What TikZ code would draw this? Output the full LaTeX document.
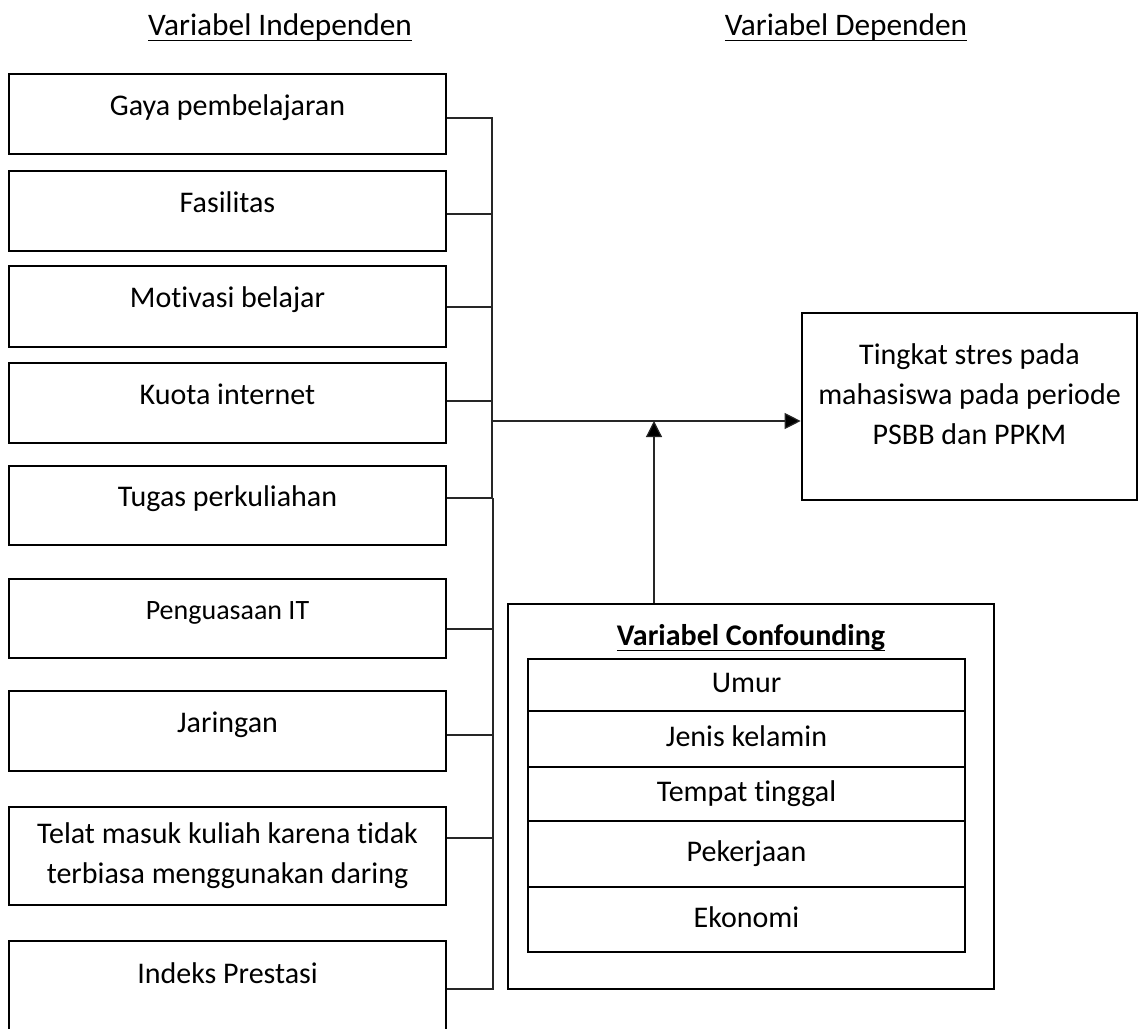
\documentclass[tikz,border=0pt]{standalone}
\usepackage{fontspec}
\setmainfont{Carlito}[Ligatures=NoCommon]
\usetikzlibrary{arrows.meta}

% garis bawah tebal untuk judul
\newcommand{\ulx}[1]{\setbox0\hbox{#1}\rlap{\rule[-4.8pt]{\wd0}{1.4pt}}\box0}

\tikzset{
  ivbox/.style={draw, line width=2pt, minimum width=327.75pt, inner sep=0pt, align=center},
  toptext/.style={text height=15.75pt, text depth=14pt},
  cfbox/.style={draw, line width=1.8pt, minimum width=327.75pt, inner sep=0pt, text height=15.75pt, text depth=4.5pt},
  conn/.style={draw=black!85, line width=0.9pt},
  arr/.style={conn, -{Triangle[length=12pt,width=12pt,fill=black]}},
  title/.style={anchor=base, inner sep=0pt, font=\fontsize{23.5pt}{30pt}\selectfont},
}

\begin{document}
\begin{tikzpicture}[x=0.75pt, y=-0.75pt, font=\fontsize{22.5pt}{30pt}\selectfont]
\useasboundingbox (0,0) rectangle (1141,1028);

% judul kolom
\node[title] (ivt) at (280,35) {\ulx{Variabel Independen}};
\node[title] (dvt) at (846,35) {\ulx{Variabel Dependen}};

% variabel independen
\node[ivbox, toptext, minimum height=60pt] (g1) at (227.5,114) {Gaya pembelajaran};
\node[ivbox, toptext, minimum height=60pt] (g2) at (227.5,211) {Fasilitas};
\node[ivbox, toptext, minimum height=60.75pt] (g3) at (227.5,306.5) {Motivasi belajar};
\node[ivbox, toptext, minimum height=60pt] (g4) at (227.5,403) {Kuota internet};
\node[ivbox, toptext, minimum height=59.25pt] (g5) at (227.5,505.5) {Tugas perkuliahan};
\node[ivbox, toptext, minimum height=59.25pt, font=\fontsize{21pt}{26pt}\selectfont] (g6) at (227.5,618.5) {Penguasaan IT};
\node[ivbox, toptext, minimum height=60pt] (g7) at (227.5,731) {Jaringan};
\node[ivbox, minimum height=73.5pt] (g8) at (227.5,856) {Telat masuk kuliah karena tidak\\terbiasa menggunakan daring};
\node[ivbox, text height=15.75pt, text depth=27pt, minimum height=75pt] (g9) at (227.5,991) {Indeks Prestasi};

% variabel dependen
\node[ivbox, minimum width=251.25pt, minimum height=140.25pt] (dv) at (969.5,406.5)
  {Tingkat stres pada\\mahasiswa pada periode\\PSBB dan PPKM\rule[-18pt]{0pt}{0pt}};

% variabel confounding
\node[draw, line width=2pt, minimum width=364.5pt, minimum height=288.75pt] (cf) at (751,796.5) {};
\node[title, font=\fontsize{22.5pt}{30pt}\selectfont] (cft) at (751,645) {\textbf{\ulx{Variabel Confounding}}};
\node[cfbox, minimum height=39pt] (c1) at (746.5,685) {Umur};
\node[cfbox, minimum height=42pt] (c2) at (746.5,739) {Jenis kelamin};
\node[cfbox, minimum height=40.5pt] (c3) at (746.5,794) {Tempat tinggal};
\node[cfbox, minimum height=49.5pt] (c4) at (746.5,854) {Pekerjaan};
\node[cfbox, minimum height=48.75pt] (c5) at (746.5,919.5) {Ekonomi};

% garis penghubung
\coordinate (bus) at (492,421);
\coordinate (bus2) at (493,498);
\coordinate (mid) at (654,421);
\foreach \n/\y in {1/118, 2/214, 3/307, 4/401, 5/498}
  \draw[conn] (g\n.east |- 0,\y) -| (bus);
\foreach \n/\y in {6/629, 7/735, 8/838, 9/989}
  \draw[conn] (g\n.east |- 0,\y) -| (bus2);
\draw[arr] (bus) -- (dv.west |- bus);
\draw[arr] (cf.north -| mid) -- (mid);
\end{tikzpicture}
\end{document}
